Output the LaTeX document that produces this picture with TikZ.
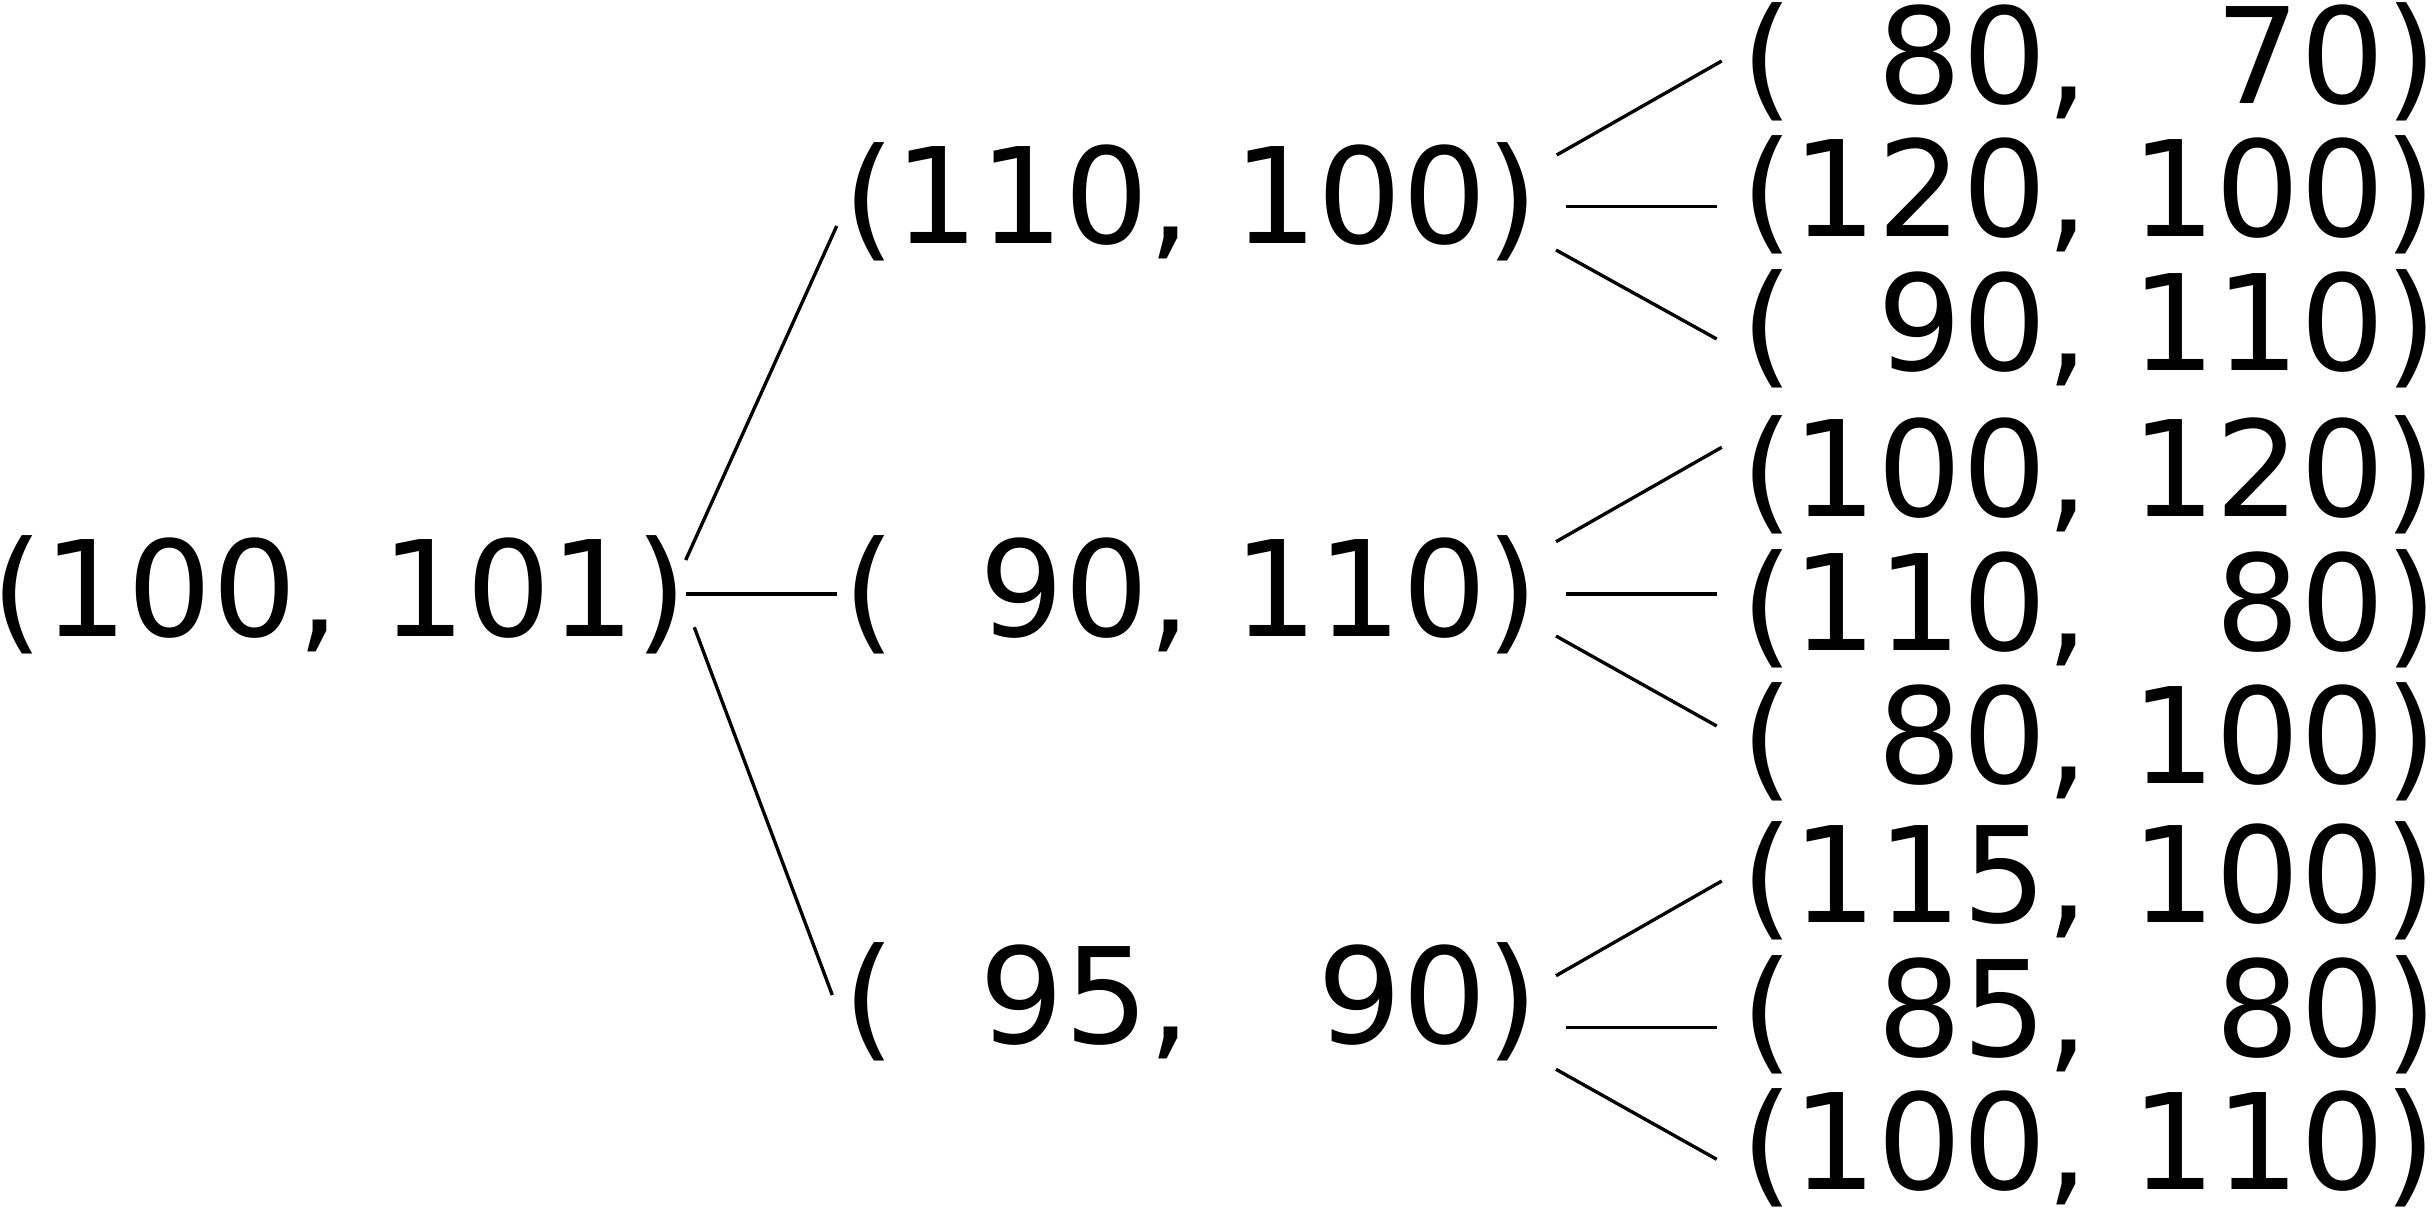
\documentclass[tikz,border=0pt]{standalone}
\usepackage{fontspec}
\setmainfont{DejaVu Sans}
\newcommand{\fz}{\phantom{0}}
\begin{document}
\begin{tikzpicture}[x=0.3pt,y=-0.3pt,
  lbl/.style={anchor=base west,inner sep=0pt,outer sep=0pt,font=\fontsize{39.9pt}{48pt}\selectfont},
  edge/.style={line width=1pt,line cap=butt}]
\path[use as bounding box] (0,0) rectangle (2433,1208);
% nodes
\node[lbl] (r)  at (-8.5,636.4) {(100, 101)};
\node[lbl] (a)  at (843,243)   {(110, 100)};
\node[lbl] (b)  at (843,636.4) {(\fz90, 110)};
\node[lbl] (c)  at (843,1043)  {(\fz95, \fz90)};
\node[lbl] (a1) at (1741,103.5)  {(\fz80, \fz70)};
\node[lbl] (a2) at (1741,236.4)  {(120, 100)};
\node[lbl] (a3) at (1741,370)    {(\fz90, 110)};
\node[lbl] (b1) at (1741,516.4)  {(100, 120)};
\node[lbl] (b2) at (1741,650)    {(110, \fz80)};
\node[lbl] (b3) at (1741,783.5)  {(\fz80, 100)};
\node[lbl] (c1) at (1741,922.4)  {(115, 100)};
\node[lbl] (c2) at (1741,1056)   {(\fz85, \fz80)};
\node[lbl] (c3) at (1741,1189)   {(100, 110)};
% connector end points
\coordinate (r-a) at (685.7,560);   \coordinate (a-r) at (836.7,226);
\coordinate (r-b) at (685.7,594);   \coordinate (b-r) at (836.7,594);
\coordinate (r-c) at (694.3,627.3); \coordinate (c-r) at (832.3,995);
\coordinate (a-1) at (1556.7,155);  \coordinate (1-a) at (1721.7,61);
\coordinate (a-2) at (1565.7,206.7);\coordinate (2-a) at (1716.7,206.7);
\coordinate (a-3) at (1556,250);    \coordinate (3-a) at (1716.7,339);
\coordinate (b-1) at (1556,541.7);  \coordinate (1-b) at (1721.7,447.3);
\coordinate (b-2) at (1565.7,594);  \coordinate (2-b) at (1716.7,594);
\coordinate (b-3) at (1556,636);    \coordinate (3-b) at (1716.7,726);
\coordinate (c-1) at (1556,975.7);  \coordinate (1-c) at (1721.7,881);
\coordinate (c-2) at (1565.7,1027.3);\coordinate (2-c) at (1716.7,1027.3);
\coordinate (c-3) at (1556,1069.3); \coordinate (3-c) at (1716.7,1159.3);
% connectors
\draw[edge] (r-a) -- (a-r);
\draw[edge] (r-b) -- (b-r);
\draw[edge] (r-c) -- (c-r);
\draw[edge] (a-1) -- (1-a);
\draw[edge] (a-2) -- (2-a);
\draw[edge] (a-3) -- (3-a);
\draw[edge] (b-1) -- (1-b);
\draw[edge] (b-2) -- (2-b);
\draw[edge] (b-3) -- (3-b);
\draw[edge] (c-1) -- (1-c);
\draw[edge] (c-2) -- (2-c);
\draw[edge] (c-3) -- (3-c);
\end{tikzpicture}
\end{document}
